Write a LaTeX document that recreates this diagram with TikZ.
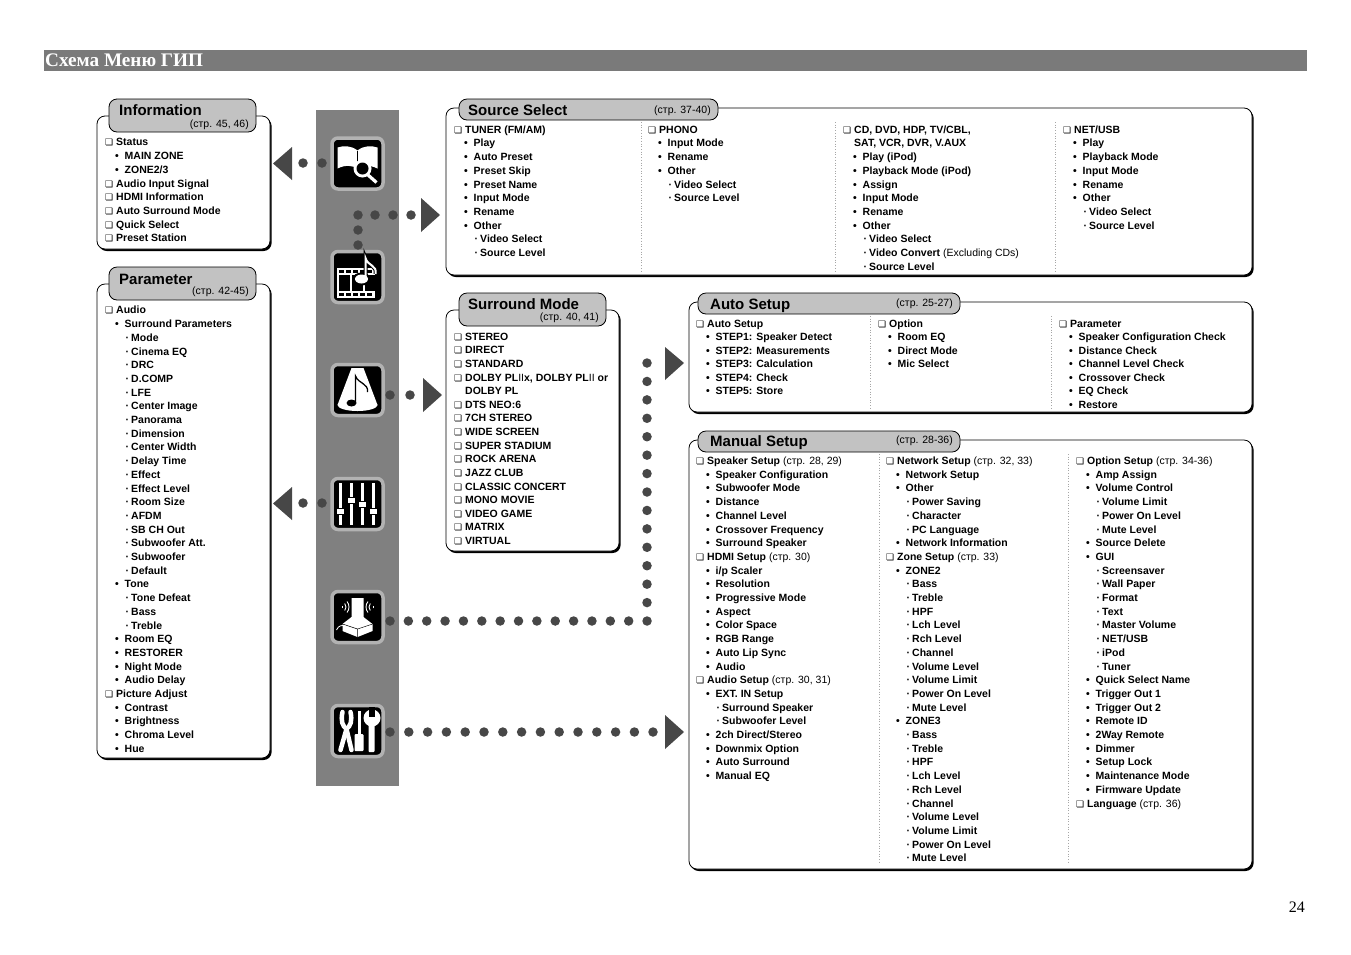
\documentclass[tikz,border=0pt]{standalone}
\usepackage{fontspec}
\setmainfont{Liberation Sans}
\newfontfamily\serifbar{Liberation Serif}
\newfontfamily\symbfont{DejaVu Sans}
\usetikzlibrary{shadows}
\definecolor{barGray}{HTML}{7A7A7A}
\definecolor{colGray}{HTML}{808080}
\definecolor{tabGray}{HTML}{C2C2C2}
\definecolor{dotGray}{HTML}{474747}
\newcommand{\lvlA}[1]{\rule{0pt}{8pt}\makebox[11pt][l]{\symbfont\fontsize{9}{13.68}\selectfont ❏}#1}
\newcommand{\lvlB}[1]{\rule{0pt}{8pt}\hspace*{10pt}\makebox[9.5pt][l]{•}#1}
\newcommand{\lvlC}[1]{\rule{0pt}{8pt}\hspace*{20.5pt}\makebox[5.5pt][l]{·}#1}
\newcommand{\lvlD}[1]{\rule{0pt}{8pt}\hspace*{11pt}#1}
\newcommand{\pgref}[1]{{\mdseries #1}}
\tikzset{
  list_text/.style={anchor=north west, align=left, inner sep=0pt,
    font=\fontsize{10.5}{13.7}\selectfont\bfseries},
  panel_box/.style={draw=black, fill=white, rounded corners=8pt, line width=0.8pt, inner sep=0pt,
    drop shadow={shadow xshift=1.6pt, shadow yshift=-2pt, fill=black, opacity=1}},
  tab_box/.style={draw=black, fill=tabGray, rounded corners=8pt, line width=0.8pt, inner sep=0pt},
  tab_title/.style={anchor=base west, inner sep=0pt, font=\fontsize{15}{15}\selectfont\bfseries},
  tab_page/.style={inner sep=0pt, font=\fontsize{10.5}{12}\selectfont},
  col_sep/.style={draw=gray!70, dotted, line width=0.7pt},
  icon_box/.style={fill=black, draw=gray!60, line width=3.5pt, rounded corners=6pt,
    minimum size=51pt, inner sep=0pt},
  dot_style/.style={circle, fill=dotGray, minimum size=9.5pt, inner sep=0pt},
  arrow_head/.style={fill=dotGray, draw=none}
}
\begin{document}
\begin{tikzpicture}[x=1pt, y=-1pt]
\useasboundingbox (0,0) rectangle (1351,954);

\node[fill=barGray, anchor=north west, minimum width=1263pt, minimum height=21pt, inner sep=0pt] (title_bar) at (44,50) {};
\node[anchor=west, inner sep=0pt, text=white, font=\fontsize{19.2}{19.2}\selectfont\serifbar\bfseries] (title_text) at (45,60.5) {Схема Меню ГИП};
\node[anchor=east, inner sep=0pt, font=\fontsize{16}{16}\selectfont\serifbar] (page_no) at (1305,907) {24};

\node[fill=colGray, anchor=north west, minimum width=83pt, minimum height=676pt, inner sep=0pt] (menu_col) at (316,110) {};

% panels
\node[panel_box, minimum width=173pt, minimum height=133pt] (info_panel) at (183.5,182.5) {};
\node[panel_box, minimum width=173pt, minimum height=474pt] (param_panel) at (183.5,521) {};
\node[panel_box, minimum width=806pt, minimum height=167pt] (source_panel) at (849,191.5) {};
\node[panel_box, minimum width=173pt, minimum height=241pt] (surround_panel) at (532.5,430.5) {};
\node[panel_box, minimum width=563pt, minimum height=110pt] (auto_panel) at (970.5,357) {};
\node[panel_box, minimum width=563pt, minimum height=429pt] (manual_panel) at (970.5,654.5) {};

% tabs
\node[tab_box, minimum width=147pt, minimum height=33pt] (info_tab) at (182.5,115.5) {};
\node[tab_box, minimum width=147pt, minimum height=33pt] (param_tab) at (182.5,283.5) {};
\node[tab_box, minimum width=259pt, minimum height=21pt] (source_tab) at (588.5,109.5) {};
\node[tab_box, minimum width=147pt, minimum height=33pt] (surround_tab) at (532.5,309.5) {};
\node[tab_box, minimum width=262pt, minimum height=21pt] (auto_tab) at (829,303.5) {};
\node[tab_box, minimum width=262pt, minimum height=21pt] (manual_tab) at (829,441.5) {};

\node[tab_title] (info_name) at (119,115.5) {Information};
\node[tab_page, anchor=east] (info_page) at (249,125) {(стр. 45, 46)};
\node[tab_title] (param_name) at (119,284) {Parameter};
\node[tab_page, anchor=east] (param_page) at (249,292) {(стр. 42-45)};
\node[tab_title] (source_name) at (468,115.5) {Source Select};
\node[tab_page, anchor=west] (source_page) at (654,110.5) {(стр. 37-40)};
\node[tab_title] (surround_name) at (468,309.5) {Surround Mode};
\node[tab_page, anchor=east] (surround_page) at (599,318) {(стр. 40, 41)};
\node[tab_title] (auto_name) at (710,309.5) {Auto Setup};
\node[tab_page, anchor=west] (auto_page) at (896,304) {(стр. 25-27)};
\node[tab_title] (manual_name) at (710,446.5) {Manual Setup};
\node[tab_page, anchor=west] (manual_page) at (896,441) {(стр. 28-36)};

% lists
\node[list_text] (info_list) at (105,137.7) {\lvlA{Status}\\\lvlB{MAIN ZONE}\\\lvlB{ZONE2/3}\\\lvlA{Audio Input Signal}\\\lvlA{HDMI Information}\\\lvlA{Auto Surround Mode}\\\lvlA{Quick Select}\\\lvlA{Preset Station}};

\node[list_text] (param_list) at (105,305.7) {\lvlA{Audio}\\\lvlB{Surround Parameters}\\\lvlC{Mode}\\\lvlC{Cinema EQ}\\\lvlC{DRC}\\\lvlC{D.COMP}\\\lvlC{LFE}\\\lvlC{Center Image}\\\lvlC{Panorama}\\\lvlC{Dimension}\\\lvlC{Center Width}\\\lvlC{Delay Time}\\\lvlC{Effect}\\\lvlC{Effect Level}\\\lvlC{Room Size}\\\lvlC{AFDM}\\\lvlC{SB CH Out}\\\lvlC{Subwoofer Att.}\\\lvlC{Subwoofer}\\\lvlC{Default}\\\lvlB{Tone}\\\lvlC{Tone Defeat}\\\lvlC{Bass}\\\lvlC{Treble}\\\lvlB{Room EQ}\\\lvlB{RESTORER}\\\lvlB{Night Mode}\\\lvlB{Audio Delay}\\\lvlA{Picture Adjust}\\\lvlB{Contrast}\\\lvlB{Brightness}\\\lvlB{Chroma Level}\\\lvlB{Hue}};

\node[list_text] (source_a) at (454,125) {\lvlA{TUNER (FM/AM)}\\\lvlB{Play}\\\lvlB{Auto Preset}\\\lvlB{Preset Skip}\\\lvlB{Preset Name}\\\lvlB{Input Mode}\\\lvlB{Rename}\\\lvlB{Other}\\\lvlC{Video Select}\\\lvlC{Source Level}};
\node[list_text] (source_b) at (648,125) {\lvlA{PHONO}\\\lvlB{Input Mode}\\\lvlB{Rename}\\\lvlB{Other}\\\lvlC{Video Select}\\\lvlC{Source Level}};
\node[list_text] (source_c) at (843,125) {\lvlA{CD, DVD, HDP, TV/CBL,}\\\lvlD{SAT, VCR, DVR, V.AUX}\\\lvlB{Play (iPod)}\\\lvlB{Playback Mode (iPod)}\\\lvlB{Assign}\\\lvlB{Input Mode}\\\lvlB{Rename}\\\lvlB{Other}\\\lvlC{Video Select}\\\lvlC{Video Convert \pgref{(Excluding CDs)}}\\\lvlC{Source Level}};
\node[list_text] (source_d) at (1063,125) {\lvlA{NET/USB}\\\lvlB{Play}\\\lvlB{Playback Mode}\\\lvlB{Input Mode}\\\lvlB{Rename}\\\lvlB{Other}\\\lvlC{Video Select}\\\lvlC{Source Level}};

\node[list_text, font=\fontsize{10.5}{13.62}\selectfont\bfseries] (surround_list) at (454,332) {\lvlA{STEREO}\\\lvlA{DIRECT}\\\lvlA{STANDARD}\\\lvlA{DOLBY PL{\mdseries II}x, DOLBY PL{\mdseries II} or}\\\lvlD{DOLBY PL}\\\lvlA{DTS NEO:6}\\\lvlA{7CH STEREO}\\\lvlA{WIDE SCREEN}\\\lvlA{SUPER STADIUM}\\\lvlA{ROCK ARENA}\\\lvlA{JAZZ CLUB}\\\lvlA{CLASSIC CONCERT}\\\lvlA{MONO MOVIE}\\\lvlA{VIDEO GAME}\\\lvlA{MATRIX}\\\lvlA{VIRTUAL}};

\node[list_text, font=\fontsize{10.5}{13.5}\selectfont\bfseries] (auto_a) at (696,319) {\lvlA{Auto Setup}\\\lvlB{STEP1: Speaker Detect}\\\lvlB{STEP2: Measurements}\\\lvlB{STEP3: Calculation}\\\lvlB{STEP4: Check}\\\lvlB{STEP5: Store}};
\node[list_text, font=\fontsize{10.5}{13.5}\selectfont\bfseries] (auto_b) at (878,319) {\lvlA{Option}\\\lvlB{Room EQ}\\\lvlB{Direct Mode}\\\lvlB{Mic Select}};
\node[list_text, font=\fontsize{10.5}{13.5}\selectfont\bfseries] (auto_c) at (1059,319) {\lvlA{Parameter}\\\lvlB{Speaker Configuration Check}\\\lvlB{Distance Check}\\\lvlB{Channel Level Check}\\\lvlB{Crossover Check}\\\lvlB{EQ Check}\\\lvlB{Restore}};

\node[list_text] (manual_a) at (696,456.3) {\lvlA{Speaker Setup \pgref{(стр. 28, 29)}}\\\lvlB{Speaker Configuration}\\\lvlB{Subwoofer Mode}\\\lvlB{Distance}\\\lvlB{Channel Level}\\\lvlB{Crossover Frequency}\\\lvlB{Surround Speaker}\\\lvlA{HDMI Setup \pgref{(стр. 30)}}\\\lvlB{i/p Scaler}\\\lvlB{Resolution}\\\lvlB{Progressive Mode}\\\lvlB{Aspect}\\\lvlB{Color Space}\\\lvlB{RGB Range}\\\lvlB{Auto Lip Sync}\\\lvlB{Audio}\\\lvlA{Audio Setup \pgref{(стр. 30, 31)}}\\\lvlB{EXT. IN Setup}\\\lvlC{Surround Speaker}\\\lvlC{Subwoofer Level}\\\lvlB{2ch Direct/Stereo}\\\lvlB{Downmix Option}\\\lvlB{Auto Surround}\\\lvlB{Manual EQ}};
\node[list_text] (manual_b) at (886,456.3) {\lvlA{Network Setup \pgref{(стр. 32, 33)}}\\\lvlB{Network Setup}\\\lvlB{Other}\\\lvlC{Power Saving}\\\lvlC{Character}\\\lvlC{PC Language}\\\lvlB{Network Information}\\\lvlA{Zone Setup \pgref{(стр. 33)}}\\\lvlB{ZONE2}\\\lvlC{Bass}\\\lvlC{Treble}\\\lvlC{HPF}\\\lvlC{Lch Level}\\\lvlC{Rch Level}\\\lvlC{Channel}\\\lvlC{Volume Level}\\\lvlC{Volume Limit}\\\lvlC{Power On Level}\\\lvlC{Mute Level}\\\lvlB{ZONE3}\\\lvlC{Bass}\\\lvlC{Treble}\\\lvlC{HPF}\\\lvlC{Lch Level}\\\lvlC{Rch Level}\\\lvlC{Channel}\\\lvlC{Volume Level}\\\lvlC{Volume Limit}\\\lvlC{Power On Level}\\\lvlC{Mute Level}};
\node[list_text] (manual_c) at (1076,456.3) {\lvlA{Option Setup \pgref{(стр. 34-36)}}\\\lvlB{Amp Assign}\\\lvlB{Volume Control}\\\lvlC{Volume Limit}\\\lvlC{Power On Level}\\\lvlC{Mute Level}\\\lvlB{Source Delete}\\\lvlB{GUI}\\\lvlC{Screensaver}\\\lvlC{Wall Paper}\\\lvlC{Format}\\\lvlC{Text}\\\lvlC{Master Volume}\\\lvlC{NET/USB}\\\lvlC{iPod}\\\lvlC{Tuner}\\\lvlB{Quick Select Name}\\\lvlB{Trigger Out 1}\\\lvlB{Trigger Out 2}\\\lvlB{Remote ID}\\\lvlB{2Way Remote}\\\lvlB{Dimmer}\\\lvlB{Setup Lock}\\\lvlB{Maintenance Mode}\\\lvlB{Firmware Update}\\\lvlA{Language \pgref{(стр. 36)}}};

% column separators
\foreach \x in {641,835,1055}
  \draw[col_sep] (\x,122) -- (\x,272);
\foreach \x in {870,1051}
  \draw[col_sep] (\x,316) -- (\x,409);
\foreach \x in {879,1068}
  \draw[col_sep] (\x,454) -- (\x,862);

% icons
\node[icon_box] (icon1) at (357.5,163.5) {};
\node[icon_box] (icon2) at (357.5,277) {};
\node[icon_box] (icon3) at (357.5,390) {};
\node[icon_box] (icon4) at (357.5,504) {};
\node[icon_box] (icon5) at (357.5,617) {};
\node[icon_box] (icon6) at (357.5,731) {};

\begin{scope}[shift={(icon1.center)}]
  \fill[white] (0,-13) .. controls (-6,-18) and (-14,-18) .. (-20,-16) -- (-20,5) .. controls (-12,1) and (-5,2) .. (0,5) .. controls (5,2) and (12,1) .. (20,5) -- (20,-16) .. controls (14,-18) and (6,-18) .. (0,-13) -- cycle;
  \draw[black, line width=0.6pt] (0,-13) -- (0,5);
  \draw[white, line width=3.2pt] (10,11) -- (19,19);
  \fill[white] (5,5) circle (9);
  \fill[black] (5,5) circle (6);
\end{scope}
\begin{scope}[shift={(icon2.center)}]
  \fill[white] (-21,-9) rectangle (17,21);
  \foreach \x in {-19,-12,-5,2,9}
    \fill[black] (\x,-7) rectangle (\x+5,-4);
  \foreach \x in {-19,-12,-5,2,9}
    \fill[black] (\x,16) rectangle (\x+5,19);
  \foreach \x in {-19,-6,7}
    \fill[black] (\x,-2) rectangle (\x+11,14);
  \fill[black] (4,2) ellipse (9 and 6.5);
  \draw[black, line width=4pt] (8,2) -- (8,-19) .. controls (10,-11) and (20,-12) .. (18,-3);
  \draw[white, line width=2pt] (8,2) -- (8,-19) .. controls (10,-11) and (20,-12) .. (18,-3);
  \fill[white] (4,2) ellipse (6.5 and 4.5);
\end{scope}
\begin{scope}[shift={(icon3.center)}]
  \fill[white] (-6,-22) -- (6,-22) -- (20,15) -- (-20,15) -- cycle;
  \fill[white] (0,15) ellipse (20 and 6);
  \fill[black] (-6,13) ellipse (5 and 3.5);
  \draw[black, line width=1.3pt] (-2,13) -- (-2,-14) .. controls (1,-6) and (11,-7) .. (10,2);
\end{scope}
\begin{scope}[shift={(icon4.center)}]
  \foreach \x/\k in {-17/7,-6/-4,5/0,16/7} {
    \draw[white, line width=2.5pt] (\x,-21) -- (\x,21);
    \fill[white, draw=black, line width=0.5pt] (\x-4,\k-3) rectangle (\x+4,\k+3);
  }
\end{scope}
\begin{scope}[shift={(icon5.center)}]
  \fill[white] (-6,-19) -- (6,-19) -- (6,0) -- (15,7) -- (15,14) -- (0,20) -- (-15,14) -- (-15,7) -- (-6,0) -- cycle;
  \draw[black, line width=0.5pt] (-15,7) -- (0,12) -- (15,7) (0,12) -- (0,20);
  \draw[white, line width=0.8pt] (-21,13) .. controls (-19,8) and (-15,8) .. (-12,9);
  \foreach \r in {2,5.5,8.5}
    \draw[white, line width=0.9pt] (-17,-10) ++(40:\r) arc (40:-40:\r);
  \foreach \r in {2,5.5,8.5}
    \draw[white, line width=0.9pt] (17,-10) ++(140:\r) arc (140:220:\r);
\end{scope}
\begin{scope}[shift={(icon6.center)}]
  \draw[white, line width=4.5pt, line cap=round] (-15,-19) .. controls (-17,-10) and (-15,-5) .. (-11,-2) -- (-6,19);
  \draw[white, line width=4.5pt, line cap=round] (-7,-19) .. controls (-5,-10) and (-7,-5) .. (-11,-2) -- (-17,19);
  \draw[white, line width=2.5pt] (2,-20) -- (2,4);
  \fill[white, rounded corners=1pt] (-3,3) rectangle (6,20);
  \fill[white] (14.5,-13) circle (8.5);
  \fill[white, rounded corners=1pt] (11,-8) rectangle (17,21);
  \fill[black] (11.5,-24) rectangle (17.5,-14);
\end{scope}

% dots and heads
\foreach \x [count=\i] in {303,322}
  \node[dot_style] (dot_a\i) at (\x,163) {};
\fill[arrow_head] (273,163.5) -- (292,147) -- (292,180) -- cycle;

\foreach \x [count=\i] in {358,375,393,411}
  \node[dot_style] (dot_b\i) at (\x,215) {};
\foreach \y [count=\i] in {230,245}
  \node[dot_style] (dot_c\i) at (358,\y) {};
\fill[arrow_head] (440,215) -- (421,198) -- (421,232) -- cycle;

\foreach \x [count=\i] in {390,410}
  \node[dot_style] (dot_d\i) at (\x,395) {};
\fill[arrow_head] (442,395) -- (423,378) -- (423,412) -- cycle;

\foreach \x [count=\i] in {303,322}
  \node[dot_style] (dot_e\i) at (\x,503) {};
\fill[arrow_head] (273,503.5) -- (292,487) -- (292,520) -- cycle;

\foreach \i in {0,...,14}
  \node[dot_style] (dot_f\i) at ({390+\i*18.36},621) {};
\foreach \i in {0,...,13}
  \node[dot_style] (dot_g\i) at (647,{363+\i*18.43}) {};
\fill[arrow_head] (684,363) -- (665,347) -- (665,380) -- cycle;

\foreach \i in {0,...,13}
  \node[dot_style] (dot_h\i) at ({390+\i*18.8},732) {};
\node[dot_style] (dot_h14) at (653,732) {};
\fill[arrow_head] (684,732) -- (665,715) -- (665,749) -- cycle;

\end{tikzpicture}
\end{document}
